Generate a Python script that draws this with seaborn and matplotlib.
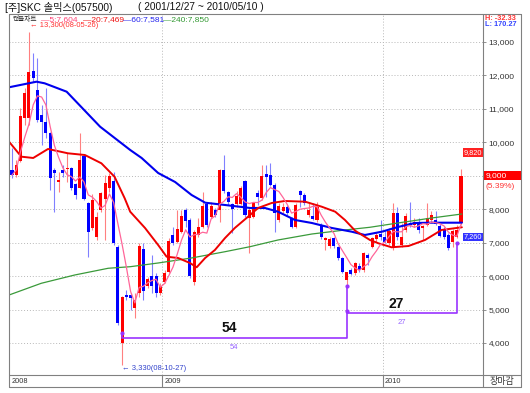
import numpy as np
import pandas as pd
import matplotlib
matplotlib.use("Agg")
import matplotlib.pyplot as plt
from matplotlib.lines import Line2D
from matplotlib.patches import Rectangle
import seaborn as sns

sns.set_theme(style="white")
plt.rcParams["font.family"] = ["Liberation Sans", "Noto Sans CJK KR", "DejaVu Sans"]

# weekly candles, 2008-04-28 .. 2010-05-10
start_date = "2008-04-28"
opens = [9170, 9020, 9440, 10720, 10740, 12130, 11560, 10820, 10620, 10270,
         9170, 8820, 9170, 9200, 9220, 8740, 8640, 9600, 8200, 7430,
         7180, 7980, 8320, 8620, 8840, 6880, 3990, 5440, 5440, 5040,
         5500, 6800, 5700, 6000, 6000, 5480, 5830, 6130, 7230, 7030,
         7330, 7980, 7680, 5830, 7230, 7460, 8160, 7780, 7980, 7980,
         9170, 8500, 8160, 8150, 8160, 8830, 7730, 7780, 8480, 8330,
         9040, 9020, 8730, 7680, 7960, 8080, 7730, 7460, 8530, 8430,
         7830, 7800, 7680, 7530, 7080, 6900, 7130, 6860, 6530, 5880,
         6190, 6080, 6300, 6180, 6630, 6880, 7100, 7260, 7180, 6980,
         6860, 7900, 6930, 7380, 7600, 7530, 7600, 7430, 7530, 7680,
         7680, 7500, 7400, 7230, 7030, 7180, 7580]
highs = [9840, 9470, 11040, 11610, 13300, 12660, 12510, 11120, 11610, 10320,
         9220, 9120, 9320, 9670, 9270, 8770, 10270, 9620, 8230, 8450,
         7930, 8520, 9020, 9070, 9120, 6930, 5400, 5590, 5500, 5490,
         6980, 6980, 5980, 6630, 6080, 5780, 6180, 7130, 7480, 7990,
         7980, 8030, 7730, 7380, 7730, 8520, 8200, 8230, 8030, 9190,
         9620, 8530, 8180, 8530, 8680, 8880, 8080, 8230, 8580, 9320,
         9320, 9370, 8780, 8180, 8180, 8130, 7780, 8180, 8580, 8480,
         8230, 8180, 8230, 7580, 7180, 7180, 7180, 6900, 6580, 6130,
         6230, 6430, 6380, 6730, 6700, 7180, 7330, 7680, 7380, 7430,
         8180, 8080, 7580, 7880, 8230, 7730, 7730, 7530, 8180, 7960,
         7960, 7560, 7460, 7280, 7400, 7530, 9190]
lows = [8920, 8970, 9420, 10520, 10520, 11810, 10620, 9920, 10120, 8570,
        7930, 8520, 8970, 8820, 8570, 8320, 8620, 8270, 6560, 7380,
        7080, 7930, 7080, 8520, 6930, 4540, 3330, 5290, 4990, 4750,
        5390, 5290, 5650, 5480, 5380, 5430, 5780, 6080, 6930, 6980,
        7280, 7480, 5940, 5730, 7180, 7430, 7480, 7730, 7780, 7630,
        8480, 8130, 7280, 8080, 8130, 7780, 6680, 7730, 8130, 8280,
        8380, 8680, 7330, 7630, 7900, 7830, 7430, 7430, 8080, 8130,
        7780, 7680, 7630, 7100, 6780, 6830, 6830, 6480, 6080, 5700,
        6030, 6030, 6130, 6130, 6330, 6830, 7030, 7080, 6980, 6930,
        6780, 7080, 6880, 7330, 7480, 7480, 7280, 7080, 7500, 7630,
        7530, 7160, 7100, 6780, 6880, 7130, 7530]
closes = [9020, 9320, 10800, 11460, 12110, 11910, 10670, 10620, 10270, 8920,
          9070, 8870, 9070, 9240, 8620, 8420, 9470, 8320, 7310, 8270,
          7760, 8480, 8770, 9000, 6980, 4590, 5385, 5390, 5340, 5290,
          6900, 5550, 5900, 5700, 5480, 5700, 6100, 7060, 7000, 7400,
          7800, 7660, 5990, 7330, 7480, 8100, 7530, 8100, 7830, 9170,
          8530, 8230, 8000, 8400, 8630, 7830, 7980, 8180, 8380, 8990,
          8950, 8730, 7880, 8100, 8080, 7900, 7460, 8130, 8430, 8180,
          7980, 7700, 8080, 7160, 7130, 7110, 6900, 6530, 6130, 6110,
          6060, 6380, 6180, 6680, 6530, 7130, 7230, 7160, 7030, 7360,
          7900, 7160, 7180, 7800, 7530, 7630, 7380, 7500, 7730, 7830,
          7560, 7200, 7180, 6830, 7360, 7380, 9000]

# moving averages (candle index, price)
ma20_idx = [-0.7, 2.2, 5.0, 8.5, 13.2, 17.2, 21.1, 24.2, 26.6, 27.9, 31.4, 34.5,
            36.5, 39.2, 42.0, 43.6, 45.6, 47.9, 50.3, 52.6, 56.2, 58.1, 61.3,
            64.4, 69.2, 73.1, 76.3, 78.6, 81.0, 84.5, 86.5, 89.6, 93.6, 97.5,
            101.4, 106.2]
ma20_val = [10019, 9571, 9532, 9801, 9672, 9621, 9373, 8972, 8327, 7926, 7439, 6930,
            6580, 6542, 6392, 6264, 6542, 6781, 7140, 7439, 7827, 8037, 8186,
            8246, 8225, 8076, 7926, 7678, 7358, 7080, 6981, 6862, 6900, 7080,
            7379, 7460]
ma60_idx = [-0.7, 5.8, 7.7, 12.9, 20.8, 27.9, 30.6, 34.5, 38.5, 42.4, 45.6, 50.3,
            56.2, 59.7, 62.8, 66.8, 70.8, 75.5, 80.2, 83.3, 87.3, 91.1, 95.1,
            99.1, 106.2]
ma60_val = [11646, 11813, 11765, 11514, 10467, 9771, 9532, 9083, 8814, 8425, 8195, 8126,
            8037, 8037, 7926, 7678, 7588, 7439, 7328, 7229, 7328, 7468, 7588,
            7597, 7597]
ma240_idx = [-0.7, 6.9, 14.8, 22.7, 27.9, 34.5, 42.4, 50.3, 56.2, 62.8, 70.8, 78.6,
             84.5, 91.1, 99.1, 106.2]
ma240_val = [5435, 5785, 6033, 6234, 6281, 6392, 6542, 6730, 6880, 7080, 7259, 7379,
             7460, 7588, 7738, 7857]

legend_items = ["5:7,604", "20:7,469", "60:7,581", "240:7,850"]
legend_colors = ["#ff4477", "#ee1111", "#2222ee", "#339933"]
legend_x = [41, 83, 123, 163]

span_idx = [26, 79, 105]
span_counts = [54, 27]
span_levels = [4160, 4890]
span_tops = [5700, 6990]

price_ticks = [4000, 5000, 6000, 7000, 8000, 9000, 10000, 11000, 12000, 13000]
last_close = 9000

df = pd.DataFrame({"date": pd.date_range(start_date, periods=len(closes), freq="W-MON"),
                   "open": opens, "high": highs, "low": lows, "close": closes})
df["i"] = np.arange(len(df))
df["ma5"] = df["close"].rolling(5, min_periods=1).mean()

W, H = 530, 393
fig = plt.figure(figsize=(W / 100, H / 100), dpi=100)


def fx(x):
    return x / W


def fy(y):
    return 1 - y / H


L, R, T, B = 9, 483, 14, 375
ax = fig.add_axes([fx(L), fy(B), (R - L) / W, (B - T) / H])

# grid
for v in price_ticks:
    ax.axhline(v, color="#b8b8b8", lw=0.7, linestyle=(0, (1, 2)), zorder=0)
year_idx = df.index[df["date"].dt.year.diff() > 0].tolist()
for yi in year_idx:
    ax.axvline(yi - 0.5, color="#b8b8b8", lw=0.7, linestyle=(0, (1, 2)), zorder=0)

# candles
up = df["close"] >= df["open"]
wick_col = np.where(up, "#ff8080", "#8080ff")
ax.vlines(df["i"], df["low"], df["high"], colors=wick_col, lw=0.8, zorder=2)
body_h = np.maximum((df["close"] - df["open"]).abs(), 45)
ax.bar(df["i"], body_h, bottom=np.minimum(df["open"], df["close"]), width=0.72,
       color=np.where(up, "#ff0000", "#0000ff"), linewidth=0, zorder=3)

# moving averages
sns.lineplot(x=ma240_idx, y=ma240_val, color="#3a9a3a", lw=0.9, ax=ax, zorder=4, estimator=None)
sns.lineplot(x=ma60_idx, y=ma60_val, color="#0000ee", lw=1.5, ax=ax, zorder=5, estimator=None)
sns.lineplot(x=ma20_idx, y=ma20_val, color="#ee0000", lw=1.4, ax=ax, zorder=5, estimator=None)
sns.lineplot(x=df["i"], y=df["ma5"], color="#ff6699", lw=0.9, ax=ax, zorder=6, estimator=None)
ax.set_xlabel("")
ax.set_ylabel("")
ax.set_xlim(-0.71, 111.19)
ax.set_ylim(3043, 13837)

# span annotations
pc = "#9933ff"
a, b, c = span_idx
ax.plot([a, a, b, b], [4300, span_levels[0], span_levels[0], span_tops[0]], color=pc, lw=1.2, zorder=7)
ax.plot([b, c, c], [span_levels[1], span_levels[1], span_tops[1]], color=pc, lw=1.2, zorder=7)
ax.plot([a, b, b, c], [4300, span_tops[0], span_levels[1] + 70, span_tops[1]], ls="none",
        marker="o", ms=2, color=pc, zorder=7)
for (s, e), n, lv in zip([(a, b), (b, c)], span_counts, span_levels):
    mid = (s + e) / 2
    ax.text(mid - 1.2, lv + 290, str(n), ha="center", va="center", fontsize=10,
            fontweight="bold", color="#111111", zorder=8)
    ax.text(mid, lv - 290, str(n), ha="center", va="center", fontsize=5.5, color="#9966ff", zorder=8)

ax.text(4.3, 13480, "← 13,300(08-05-26)", fontsize=5.5, color="#ff3333", va="center", ha="left")
ax.text(26.0, 3223, "← 3,330(08-10-27)", fontsize=5.5, color="#3344cc", va="center", ha="left")

ax.text(111.0, 9700, "9,820", ha="right", va="center", fontsize=5.3, color="white",
        bbox=dict(facecolor="#ff2222", edgecolor="none", pad=0.6), zorder=9)
ax.text(111.0, 7170, "7,260", ha="right", va="center", fontsize=5.3, color="white",
        bbox=dict(facecolor="#3333ff", edgecolor="none", pad=0.6), zorder=9)

# right axis (the close marker covers the 9,000 level)
ax.set_xticks([])
ax.yaxis.tick_right()
ax.set_yticks(price_ticks)
ax.set_yticklabels(["" if v == last_close else f"{v:,}" for v in price_ticks],
                   fontsize=6, color="#333333")
ax.tick_params(axis="y", length=2, width=0.6, color="#808080", pad=2)
for sp in ax.spines.values():
    sp.set_visible(False)

# frame lines
frame = [((L, 521), (T, T)), ((L, 521), (387, 387)), ((L, 521), (B, B)),
         ((L, L), (T, 387)), ((521, 521), (T, 387)), ((R, R), (T, 387))]
for yi in year_idx:
    xx = 12 + 4.236 * (yi - 0.5)
    frame.append(((xx, xx), (B, 387)))
for xs, ys in frame:
    fig.add_artist(Line2D([fx(x) for x in xs], [fy(y) for y in ys], color="#808080", lw=0.8))

# close marker
fig.add_artist(Rectangle((fx(484), fy(180)), (521 - 484) / W, 9 / H, color="#ff0000", lw=0))
fig.text(fx(486), fy(175.5), f"{last_close:,}", fontsize=6, color="white", va="center")
fig.text(fx(485), fy(186), "(5.39%)", fontsize=6, color="#ff3333", va="center")
fig.text(fx(485), fy(18.5), "H: -32.33", fontsize=5.3, color="#ff3333", va="center", fontweight="bold")
fig.text(fx(485), fy(25), "L: 170.27", fontsize=5.3, color="#3344ff", va="center", fontweight="bold")

# title and legend row
fig.text(fx(5), fy(7.5), "[주]SKC 솔믹스(057500)", fontsize=7.3, color="#111111", va="center")
fig.text(fx(138), fy(7.5), "( 2001/12/27 ~ 2010/05/10 )", fontsize=7.3, color="#111111", va="center")
fig.text(fx(13), fy(19.5), "캔들차트", fontsize=4.8, color="#222222", va="center")
for lab, col, x in zip(legend_items, legend_colors, legend_x):
    fig.text(fx(x), fy(19.5), "—" + lab, fontsize=6, color=col, va="center")

# date strip
for x, d in zip([12] + [12 + 4.236 * (yi - 0.5) + 2 for yi in year_idx],
                [df["date"].iloc[0]] + [df["date"].iloc[yi] for yi in year_idx]):
    fig.text(fx(x), fy(381.5), str(d.year), fontsize=5.3, color="#333333", va="center")
fig.text(fx(502), fy(381.5), "장마감", fontsize=6.5, color="#333333", va="center", ha="center")

fig.savefig("out.png", dpi=100)
